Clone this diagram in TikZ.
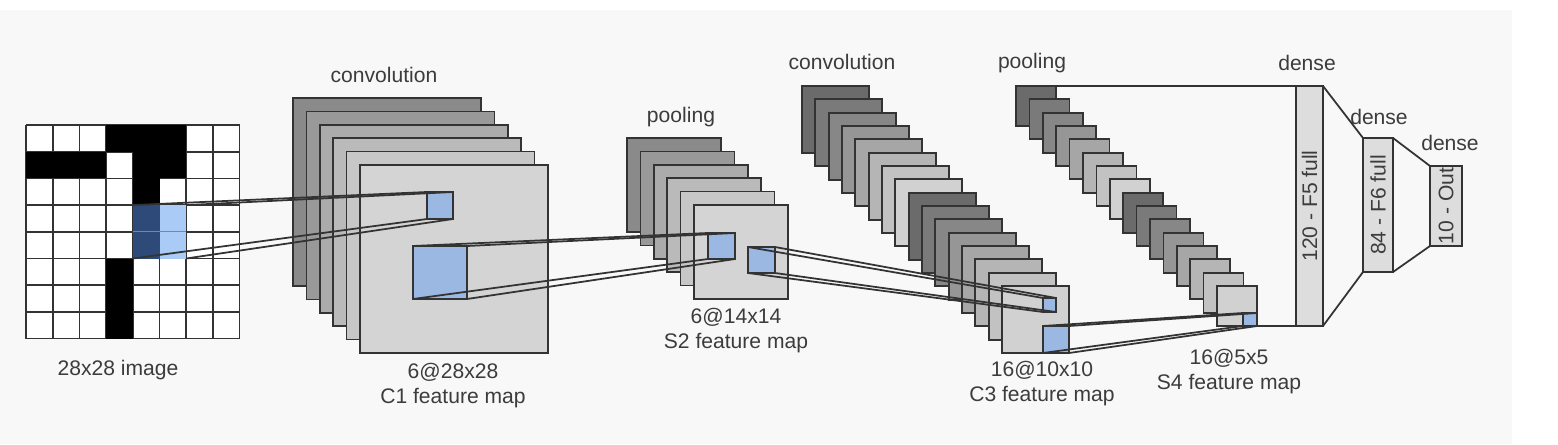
\documentclass[tikz,border=0pt]{standalone}
\usepackage{fontspec}
\setmainfont{Liberation Sans}

\definecolor{fondo}{HTML}{F8F8F8}
\definecolor{linea}{HTML}{333333}
\definecolor{texto}{HTML}{3C3C3C}
\definecolor{azul}{HTML}{9BB8E3}
\definecolor{azulclaro}{HTML}{A9CBF5}
\definecolor{azuloscuro}{HTML}{2E4A78}
\definecolor{denso}{HTML}{DDDDDD}

\begin{document}
\begin{tikzpicture}
\tikzstyle{nodo texto}=[text=texto,font=\fontsize{6}{7.1}\selectfont,align=center]
\tikzstyle{capa}=[draw=linea,line width=0.5pt]
\tikzstyle{cuadro azul}=[draw=linea,fill=azul,line width=0.5pt,inner sep=0pt,outer sep=0pt]
\tikzstyle{nodo denso}=[draw=linea,fill=denso,line width=0.5pt,inner sep=0pt,outer sep=0pt,text=texto,font=\fontsize{6}{7.1}\selectfont]
\tikzstyle{conexion}=[draw=linea,line width=0.5pt]

\useasboundingbox (0,0) rectangle (15.58,4.44);
\fill[white] (0,0) rectangle (15.58,4.44);
\fill[fondo] (0,0) rectangle (15.12,4.34);

%\draw [dashed] (0.1,0.5) rectangle (2.5,3.4);
\begin{scope}[shift={(0.26,1.054)}]
\fill[white] (0,0) rectangle (2.136,2.136);
\draw[linea,line width=0.5pt,step=0.267] (0,0) grid (2.14,2.14);
\fill[black] (0.801,1.869) rectangle (1.602,2.136);
\fill[black] (0,1.602) rectangle (0.801,1.869);
\fill[black] (1.068,1.602) rectangle (1.602,1.869);
\fill[black] (1.068,1.335) rectangle (1.335,1.602);
\fill[black] (0.801,0) rectangle (1.068,0.801);
\fill[azuloscuro] (1.068,0.801) rectangle (1.335,1.335);
\fill[azulclaro] (1.335,0.801) rectangle (1.602,1.335);
\draw[linea!60,line width=0.3pt] (1.068,1.068) -- (1.602,1.068);
\node[inner sep=0pt,outer sep=0pt,minimum size=0.534cm] (v1) at (1.335,1.068) {};
\end{scope}

\draw[capa,fill=black!46] (2.93,1.58) rectangle (4.81,3.46);
\draw[capa,fill=black!40] (3.064,1.446) rectangle (4.944,3.326);
\draw[capa,fill=black!33] (3.198,1.312) rectangle (5.078,3.192);
\draw[capa,fill=black!27] (3.332,1.178) rectangle (5.212,3.058);
\draw[capa,fill=black!22] (3.466,1.044) rectangle (5.346,2.924);
\draw[capa,fill=black!17] (3.6,0.91) rectangle (5.48,2.79);
\node[cuadro azul,minimum width=0.26cm,minimum height=0.27cm] (v2) at (4.40,2.385) {};
\node[cuadro azul,minimum width=0.54cm,minimum height=0.53cm] (v3) at (4.40,1.715) {};

\draw[capa,fill=black!46] (6.27,2.12) rectangle (7.21,3.06);
\draw[capa,fill=black!40] (6.404,1.986) rectangle (7.344,2.926);
\draw[capa,fill=black!33] (6.538,1.852) rectangle (7.478,2.792);
\draw[capa,fill=black!27] (6.672,1.718) rectangle (7.612,2.658);
\draw[capa,fill=black!22] (6.806,1.584) rectangle (7.746,2.524);
\draw[capa,fill=black!17] (6.94,1.45) rectangle (7.88,2.39);
\node[cuadro azul,minimum width=0.27cm,minimum height=0.26cm] (v4) at (7.215,1.98) {};
\node[cuadro azul,minimum width=0.27cm,minimum height=0.26cm] (v5) at (7.615,1.84) {};

\draw[capa,fill=black!58] (8.02,2.91) rectangle (8.69,3.58);
\draw[capa,fill=black!52] (8.153,2.777) rectangle (8.823,3.447);
\draw[capa,fill=black!47] (8.287,2.643) rectangle (8.957,3.313);
\draw[capa,fill=black!41] (8.42,2.51) rectangle (9.09,3.18);
\draw[capa,fill=black!35] (8.553,2.377) rectangle (9.223,3.047);
\draw[capa,fill=black!29] (8.687,2.243) rectangle (9.357,2.913);
\draw[capa,fill=black!24] (8.82,2.11) rectangle (9.49,2.78);
\draw[capa,fill=black!18] (8.953,1.977) rectangle (9.623,2.647);
\draw[capa,fill=black!58] (9.087,1.843) rectangle (9.757,2.513);
\draw[capa,fill=black!52] (9.22,1.71) rectangle (9.89,2.38);
\draw[capa,fill=black!47] (9.353,1.577) rectangle (10.023,2.247);
\draw[capa,fill=black!41] (9.487,1.443) rectangle (10.157,2.113);
\draw[capa,fill=black!35] (9.62,1.31) rectangle (10.29,1.98);
\draw[capa,fill=black!29] (9.753,1.177) rectangle (10.423,1.847);
\draw[capa,fill=black!24] (9.887,1.043) rectangle (10.557,1.713);
\draw[capa,fill=black!18] (10.02,0.91) rectangle (10.69,1.58);
\node[cuadro azul,minimum width=0.13cm,minimum height=0.14cm] (v6) at (10.495,1.39) {};
\node[cuadro azul,minimum width=0.26cm,minimum height=0.27cm] (v7) at (10.56,1.045) {};

\draw[capa,fill=black!58] (10.16,3.18) rectangle (10.56,3.58);
\draw[capa,fill=black!52] (10.294,3.047) rectangle (10.694,3.447);
\draw[capa,fill=black!47] (10.428,2.913) rectangle (10.828,3.313);
\draw[capa,fill=black!41] (10.562,2.78) rectangle (10.962,3.18);
\draw[capa,fill=black!35] (10.696,2.647) rectangle (11.096,3.047);
\draw[capa,fill=black!29] (10.83,2.513) rectangle (11.23,2.913);
\draw[capa,fill=black!24] (10.964,2.38) rectangle (11.364,2.78);
\draw[capa,fill=black!18] (11.098,2.247) rectangle (11.498,2.647);
\draw[capa,fill=black!58] (11.232,2.113) rectangle (11.632,2.513);
\draw[capa,fill=black!52] (11.366,1.98) rectangle (11.766,2.38);
\draw[capa,fill=black!47] (11.5,1.847) rectangle (11.9,2.247);
\draw[capa,fill=black!41] (11.634,1.713) rectangle (12.034,2.113);
\draw[capa,fill=black!35] (11.768,1.58) rectangle (12.168,1.98);
\draw[capa,fill=black!29] (11.902,1.447) rectangle (12.302,1.847);
\draw[capa,fill=black!24] (12.036,1.313) rectangle (12.436,1.713);
\draw[capa,fill=black!18] (12.17,1.18) rectangle (12.57,1.58);
\node[cuadro azul,minimum width=0.14cm,minimum height=0.13cm] (v8) at (12.50,1.245) {};
\coordinate (v9) at (10.56,3.58);

\node[nodo denso,minimum width=0.27cm,minimum height=2.40cm] (v10) at (13.095,2.38) {\rotatebox{90}{120 - F5 full}};
\node[nodo denso,minimum width=0.30cm,minimum height=1.34cm] (v11) at (13.78,2.39) {\rotatebox{90}{84 - F6 full}};
\node[nodo denso,minimum width=0.32cm,minimum height=0.80cm] (v12) at (14.46,2.38) {\rotatebox{90}{10 - Out}};

\node[nodo texto] at (1.18,0.74) {28x28 image};
\node[nodo texto] at (3.84,3.69) {convolution};
\node[nodo texto] at (4.53,0.585) {6@28x28\\C1 feature map};
\node[nodo texto] at (6.81,3.27) {pooling};
\node[nodo texto] at (7.36,1.13) {6@14x14\\S2 feature map};
\node[nodo texto] at (8.42,3.82) {convolution};
\node[nodo texto] at (10.32,3.81) {pooling};
\node[nodo texto] at (10.42,0.60) {16@10x10\\C3 feature map};
\node[nodo texto] at (12.29,0.72) {16@5x5\\S4 feature map};
\node[nodo texto] at (13.07,3.81) {dense};
\node[nodo texto] at (13.79,3.27) {dense};
\node[nodo texto] at (14.50,3.01) {dense};

\draw[conexion] (v1.north west) -- (v2.north west);
\draw[conexion] (v1.north east) -- (v2.north east);
\draw[conexion] (v1.south west) -- (v2.south west);
\draw[conexion] (v1.south east) -- (v2.south east);
\draw[conexion] (v3.north west) -- (v4.north west);
\draw[conexion] (v3.north east) -- (v4.north east);
\draw[conexion] (v3.south west) -- (v4.south west);
\draw[conexion] (v3.south east) -- (v4.south east);
\draw[conexion] (v5.north west) -- (v6.north west);
\draw[conexion] (v5.north east) -- (v6.north east);
\draw[conexion] (v5.south west) -- (v6.south west);
\draw[conexion] (v5.south east) -- (v6.south east);
\draw[conexion] (v7.north west) -- (v8.north west);
\draw[conexion] (v7.north east) -- (v8.north east);
\draw[conexion] (v7.south west) -- (v8.south west);
\draw[conexion] (v7.south east) -- (v8.south east);
%\draw[conexion] (v8.north east) -- (v10.north west);
\draw[conexion] (v9) -- (v10.north west);
\draw[conexion] (v8.south east) -- (v10.south west);
\draw[conexion] (v10.north east) -- (v11.north west);
\draw[conexion] (v10.south east) -- (v11.south west);
\draw[conexion] (v11.north east) -- (v12.north west);
\draw[conexion] (v11.south east) -- (v12.south west);
\end{tikzpicture}
\end{document}
